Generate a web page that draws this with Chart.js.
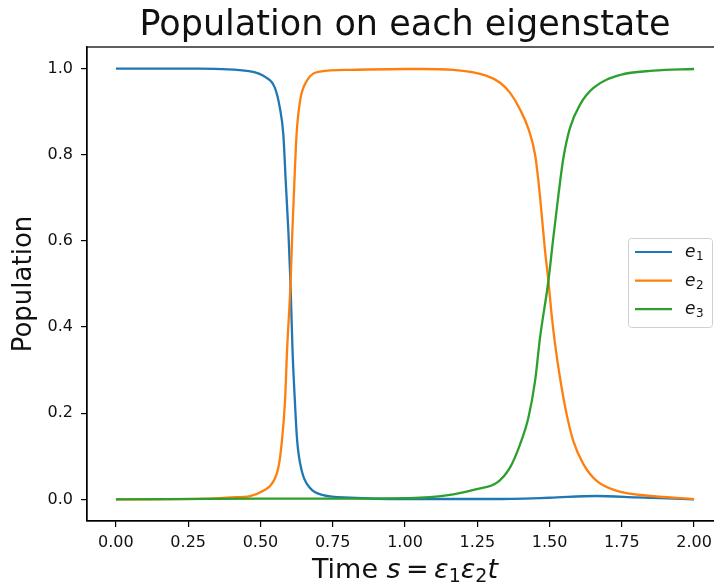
<!DOCTYPE html>
<html>
<head>
<meta charset="utf-8">
<script src="https://cdn.jsdelivr.net/npm/chart.js@4.4.1/dist/chart.umd.min.js"></script>
<style>
  body { margin: 0; background: #fff; }
  #wrap { width: 714px; height: 586px; overflow: hidden; }
</style>
</head>
<body>
<div id="wrap"><canvas id="graph-pop" width="730" height="586"></canvas></div>
<script>
// valores (s = tempo, p = populacao)
const e1S = [0, 0.29, 0.46, 0.52, 0.55, 0.567, 0.579, 0.588, 0.597, 0.604, 0.611, 0.619, 0.627, 0.643, 0.671, 0.717, 0.81, 1.0, 1.3, 1.5, 1.66, 1.8, 2.0];
const e1P = [1.0, 1.0, 0.994, 0.979, 0.955, 0.909, 0.848, 0.731, 0.616, 0.5, 0.345, 0.229, 0.136, 0.066, 0.027, 0.01, 0.004, 0.001, 0.001, 0.004, 0.008, 0.005, 0.0];

const e2S = [0, 0.3, 0.4, 0.464, 0.51, 0.539, 0.562, 0.573, 0.585, 0.592, 0.604, 0.61, 0.617, 0.625, 0.637, 0.66, 0.706, 0.81, 1.0, 1.052, 1.167, 1.283, 1.329, 1.363, 1.398, 1.427, 1.45, 1.461, 1.473, 1.484, 1.496, 1.507, 1.519, 1.536, 1.559, 1.582, 1.617, 1.663, 1.733, 1.85, 2.0];
const e2P = [0.0, 0.002, 0.005, 0.008, 0.02, 0.036, 0.074, 0.128, 0.229, 0.345, 0.5, 0.616, 0.731, 0.848, 0.925, 0.971, 0.993, 0.997, 0.999, 0.999, 0.997, 0.983, 0.967, 0.944, 0.905, 0.86, 0.8, 0.742, 0.66, 0.58, 0.507, 0.43, 0.361, 0.283, 0.198, 0.136, 0.082, 0.043, 0.02, 0.008, 0.001];

const e3S = [0, 0.5, 0.8, 1.0, 1.052, 1.167, 1.248, 1.318, 1.363, 1.398, 1.427, 1.45, 1.467, 1.496, 1.513, 1.531, 1.548, 1.571, 1.606, 1.652, 1.744, 1.86, 2.0];
const e3P = [0.0, 0.002, 0.002, 0.003, 0.004, 0.012, 0.024, 0.039, 0.074, 0.128, 0.19, 0.275, 0.375, 0.507, 0.607, 0.708, 0.793, 0.863, 0.917, 0.955, 0.985, 0.995, 0.999];

const seriesLabels = ['e_1', 'e_2', 'e_3'];
const seriesColors = ['#1f77b4', '#ff7f0e', '#2ca02c'];

// marcas dos eixos
const xTicks = [0, 0.25, 0.5, 0.75, 1.0, 1.25, 1.5, 1.75, 2.0];
const yTicks = [0, 0.2, 0.4, 0.6, 0.8, 1.0];

const titleText = 'Population on each eigenstate';
const yTitle = 'Population';
// rotulo do eixo x em partes (texto, italico, subscrito)
const xTitleParts = [
    ['Time ', false, false],
    ['s', true, false],
    ['\u2009=\u2009', false, false],
    ['\u03b5', true, false],
    ['1', false, true],
    ['\u03b5', true, false],
    ['2', false, true],
    ['t', true, false]
];

function zip(xs, ys) {
    return xs.map(function(x, i) { return {x: x, y: ys[i]}; });
}

const FONT = '"DejaVu Sans", sans-serif';
const tickFont = {family: FONT, size: 16};

// desenha titulo (centrado no eixo), moldura, rotulo x e legenda
const extras = {
    id: 'extras',
    afterDraw: function(chart) {
        const ctx = chart.ctx;
        const a = chart.chartArea;
        const cx = (a.left + a.right) / 2;
        ctx.save();
        ctx.strokeStyle = '#000';
        ctx.lineWidth = 1.25;
        ctx.strokeRect(a.left, a.top, a.right - a.left, a.bottom - a.top);

        ctx.fillStyle = '#111';
        ctx.textBaseline = 'alphabetic';
        ctx.textAlign = 'center';
        ctx.font = '35px ' + FONT;
        ctx.fillText(titleText, cx, 35);

        // rotulo x
        ctx.textAlign = 'left';
        function fontFor(p) {
            if (p[2]) return '19px ' + FONT;
            return (p[1] ? 'italic ' : '') + '27px ' + FONT;
        }
        let total = 0;
        xTitleParts.forEach(function(p) {
            ctx.font = fontFor(p);
            total += ctx.measureText(p[0]).width;
        });
        let x = cx - total / 2;
        const base = 578;
        xTitleParts.forEach(function(p) {
            ctx.font = fontFor(p);
            ctx.fillText(p[0], x, p[2] ? base + 4 : base);
            x += ctx.measureText(p[0]).width;
        });

        // legenda
        const lx = 628.5, ly = 238.5, lw = 84, lh = 89;
        ctx.beginPath();
        ctx.roundRect(lx, ly, lw, lh, 3);
        ctx.fillStyle = 'rgba(255,255,255,0.8)';
        ctx.fill();
        ctx.strokeStyle = '#d0d0d0';
        ctx.lineWidth = 1;
        ctx.stroke();
        chart.data.datasets.forEach(function(ds, i) {
            const y = 252 + i * 28.6;
            ctx.beginPath();
            ctx.moveTo(635, y);
            ctx.lineTo(672, y);
            ctx.strokeStyle = ds.borderColor;
            ctx.lineWidth = 2.2;
            ctx.stroke();
            const parts = ds.label.split('_');
            ctx.fillStyle = '#111';
            ctx.font = 'italic 17px ' + FONT;
            ctx.fillText(parts[0], 685, y + 5);
            const w = ctx.measureText(parts[0]).width;
            ctx.font = '12px ' + FONT;
            ctx.fillText(parts[1], 685 + w + 0.5, y + 8);
        });
        ctx.restore();
    }
};

const datasets = [zip(e1S, e1P), zip(e2S, e2P), zip(e3S, e3P)].map(function(d, i) {
    return {
        label: seriesLabels[i],
        data: d,
        borderColor: seriesColors[i],
        backgroundColor: seriesColors[i],
        borderWidth: 2.3,
        pointRadius: 0,
        fill: false,
        cubicInterpolationMode: 'monotone',
        order: 2 - i
    };
});

const ctx = document.getElementById('graph-pop').getContext('2d');
const myChart = new Chart(ctx, {
    type: 'line',
    data: { datasets: datasets },
    options: {
        responsive: false,
        animation: false,
        layout: { padding: { top: 47, right: 7, bottom: 0, left: 0 } },
        plugins: {
            legend: { display: false },
            tooltip: { enabled: false },
            title: { display: false }
        },
        scales: {
            x: {
                type: 'linear',
                min: -0.1,
                max: 2.1,
                afterFit: function(s) { s.height = 65; },
                afterBuildTicks: function(s) { s.ticks = xTicks.map(function(v) { return {value: v}; }); },
                ticks: {
                    callback: function(v) { return v.toFixed(2); },
                    font: tickFont, color: '#111', padding: 6,
                    maxRotation: 0, autoSkip: false
                },
                grid: { drawOnChartArea: false, tickLength: 6, color: '#000', lineWidth: 1.2 },
                border: { color: '#000', width: 1.25 }
            },
            y: {
                min: -0.05,
                max: 1.05,
                afterFit: function(s) { s.width = 87; },
                afterBuildTicks: function(s) { s.ticks = yTicks.map(function(v) { return {value: v}; }); },
                ticks: {
                    callback: function(v) { return v.toFixed(1); },
                    font: tickFont, color: '#111', padding: 8, autoSkip: false
                },
                title: {
                    display: true,
                    text: yTitle,
                    color: '#111',
                    font: { family: FONT, size: 26 },
                    padding: { top: 9, bottom: 0 }
                },
                grid: { drawOnChartArea: false, tickLength: 6, color: '#000', lineWidth: 1.2 },
                border: { color: '#000', width: 1.25 }
            }
        }
    },
    plugins: [extras]
});
</script>
</body>
</html>
